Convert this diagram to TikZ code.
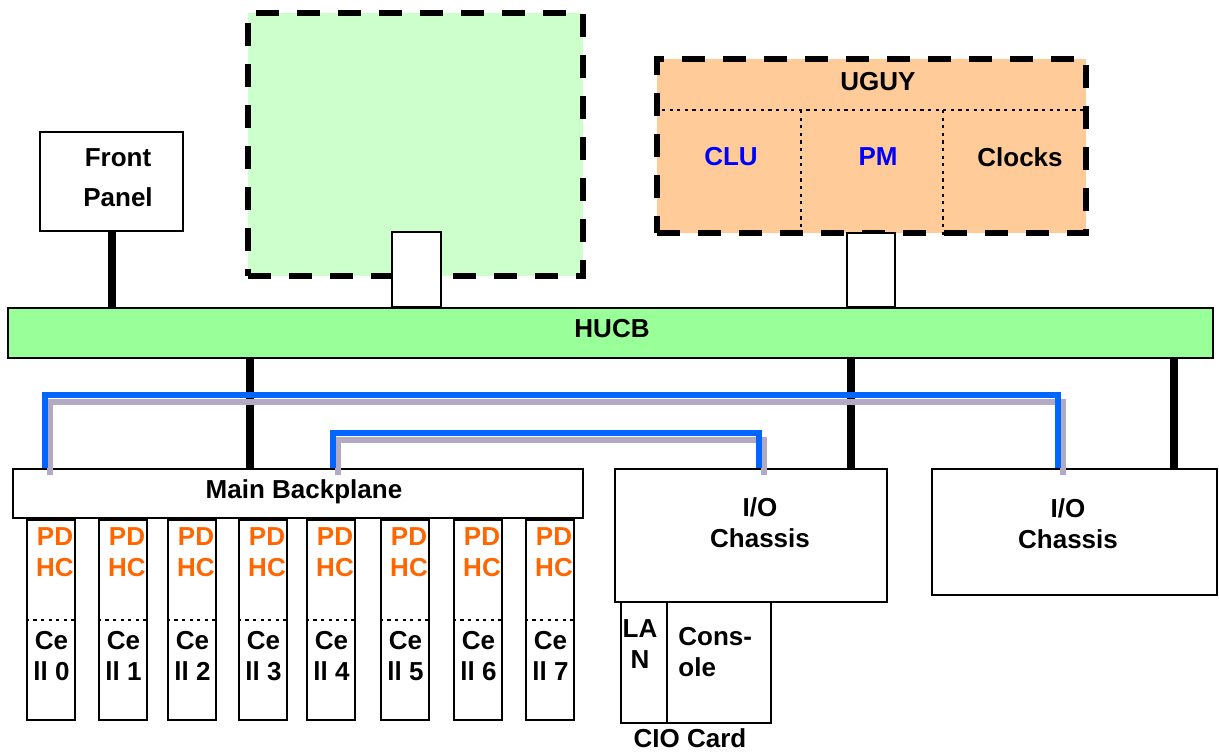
\documentclass[tikz,border=0pt]{standalone}
\usepackage{fontspec}
\setmainfont{Liberation Sans}
\usetikzlibrary{fit}
\definecolor{padgreen}{HTML}{CCFFCC}
\definecolor{busgreen}{HTML}{99FF99}
\definecolor{ugupeach}{HTML}{FFCC99}
\definecolor{hcorange}{HTML}{FF6600}
\definecolor{lanblue}{HTML}{0066FF}
\definecolor{shadowgrey}{RGB}{178,170,196}
\begin{document}
\begin{tikzpicture}[x=0.5pt, y=-0.5pt,
  every node/.style={font=\fontsize{13}{15.5}\selectfont\bfseries, inner sep=0pt, align=center},
  box/.style={draw, line width=1.2pt, fill=white},
  zone/.style={draw, line width=2.6pt, dash pattern=on 11.5pt off 9pt},
  sep/.style={line width=1.4pt, dash pattern=on 1.6pt off 2.2pt},
  bus/.style={line width=4pt},
  link/.style={draw=lanblue, line width=3.4pt,
    preaction={draw=shadowgrey, line width=3.4pt, transform canvas={shift={(2.5pt,-3.5pt)}}}}]
\useasboundingbox (0,0) rectangle (1219,751);
% Top row: front panel, the two dashed zones and their plugs
\node[box, fit={(40,132) (183,231)}] (front) {};
\node at (118,178) (fronttxt) {Front\\[4.5pt]Panel};
\node[zone, fill=padgreen, fit={(248,13) (583,276)}] (zone) {};
\node[box, line width=1pt, fit={(392,232) (441,307)}] (plugA) {};
\node[zone, fill=ugupeach, fit={(657,59) (1086,233)}] (ugu) {};
\draw[sep] (ugu.west |- 0,110) -- (ugu.east |- 0,110);
\foreach \x in {801, 943} \draw[sep] (\x,110) -- (ugu.south -| \x,0);
\node at (878,82) (ugutxt) {UGUY};
\node[text=blue] at (731,157) (clu) {CLU};
\node[text=blue] at (878,157) (pm) {PM};
\node at (1020,157) (clocks) {Clocks};
\node[box, line width=1pt, fit={(847,233) (895,307)}] (plugB) {};
% The bus
\node[box, fill=busgreen, fit={(8,308) (1213,358)}] (hucb) {};
\node at (612,329) (hucbtxt) {HUCB};
\draw[bus] (front.south) -- (front.south |- hucb.north);
% Bottom row: backplane with its cells, two chassis, the CIO card
\node[box, fit={(13,469) (583,518)}] (mbp) {};
\node at (304,492) (mbptxt) {Main Backplane};
\foreach \i/\x in {0/27, 1/99, 2/168, 3/239, 4/307, 5/381, 6/454, 7/526} {
  \node[box, fit={(\x,520) (\x+48,720)}] (card\i) {};
  \draw[sep] (card\i.west |- 0,620) -- (card\i.east |- 0,620);
  \node[text=hcorange] at (\x+28,552) (pdhc\i) {PD\\HC};
  \node at (\x+24.5,656) (cell\i) {Ce\\ll \i};
}
\node[box, fit={(615,469) (887,602)}] (ioA) {};
\node at (760,523) (ioAtxt) {I/O\\Chassis};
\node[box, fit={(932,469) (1217,595)}] (ioB) {};
\node at (1068,524) (ioBtxt) {I/O\\Chassis};
\node[box, fit={(621,602) (771,723)}] (cio) {};
\draw[line width=1.2pt] (cio.north -| 667,0) -- (cio.south -| 667,0);
\node at (640,644) (lan) {LA\\N};
\node[anchor=west, align=left] at (678,652) (console) {Cons-\\ole};
\node at (690,738) (ciotxt) {CIO Card};
\foreach \t/\n in {250/mbp, 851/ioA, 1174/ioB}
  \draw[bus] (hucb.south -| \t,0) -- (\n.north -| \t,0);
% LAN links
\coordinate (lanlong) at (1058,395);
\coordinate (lanshort) at (759,433);
\draw[link] (mbp.north -| 45,0) |- (lanlong) -- (ioB.north -| lanlong);
\draw[link] (mbp.north -| 333,0) |- (lanshort) -- (ioA.north -| lanshort);
\end{tikzpicture}
\end{document}
